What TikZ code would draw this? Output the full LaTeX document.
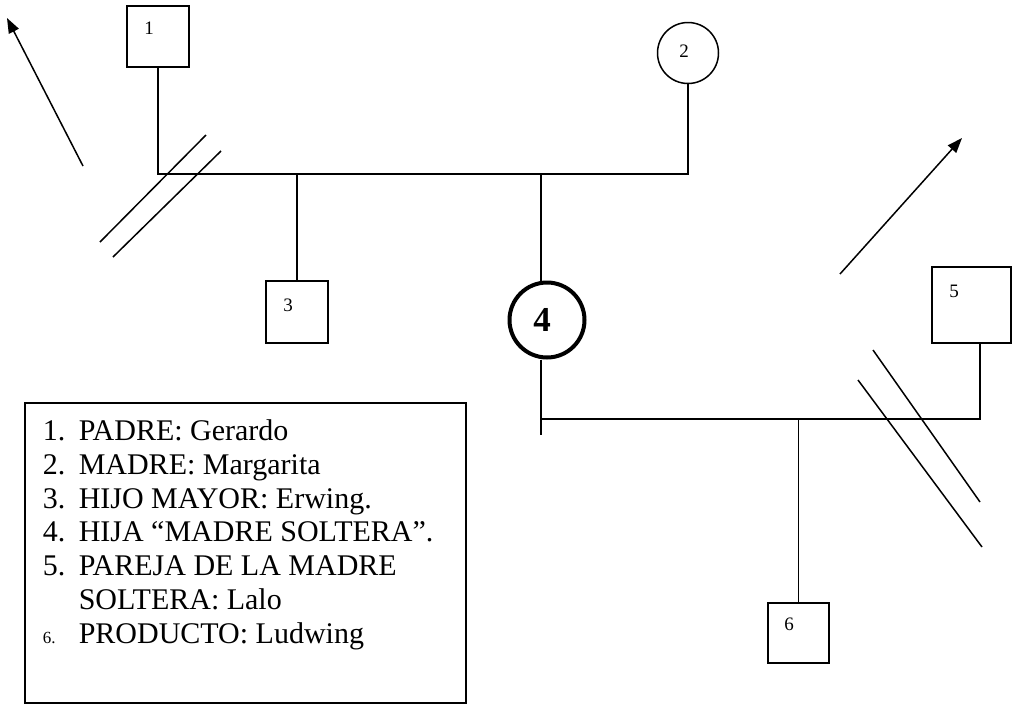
\documentclass[tikz,border=0pt]{standalone}
\usepackage{fontspec}
\setmainfont{Liberation Serif}
\usetikzlibrary{arrows.meta}

\tikzset{
  male/.style={draw, rectangle, minimum width=62pt, minimum height=61pt, inner sep=0pt},
  female/.style={draw, circle, minimum size=61pt, inner sep=0pt},
  num/.style={inner sep=0pt, font=\fontsize{19}{19}\selectfont},
}

\begin{document}
\begin{tikzpicture}[x=1pt, y=-1pt, >={Triangle[length=15pt,width=11pt]}, line width=1.5pt]
  \useasboundingbox (0,0) rectangle (1017,705);

  % parents
  \node[male] (p1) at (158,36.5) {};
  \node[num] (n1) at (149,28) {1};
  \node[female] (p2) at (688,53) {};
  \node[num] (n2) at (684,51) {2};
  \coordinate (m1) at (541,174);
  \draw (p1.south) -- (p1.south |- m1) -- (p2.south |- m1) -- (p2.south);

  % children
  \node[male, minimum height=62pt] (p3) at (297,312) {};
  \node[num] (n3) at (288,305) {3};
  \draw (p3.north) -- (p3.north |- m1);
  \node[female, minimum size=75pt, line width=4pt] (p4) at (547,320) {};
  \node[inner sep=0pt, font=\fontsize{35}{35}\selectfont\bfseries] (n4) at (542,320) {4};
  \draw (m1) -- (m1 |- p4.north);

  % second couple
  \node[male, minimum width=79pt, minimum height=76pt] (p5) at (971.5,305) {};
  \node[num] (n5) at (954,291) {5};
  \coordinate (m2) at (980,419);
  \coordinate (stub) at (541,435);
  \draw (stub |- p4.south) -- (stub);
  \draw (stub |- m2) -- (m2) -- (m2 |- p5.south);
  \node[male, minimum width=61pt, minimum height=60pt] (p6) at (798.5,633) {};
  \node[num] (n6) at (789,624) {6};
  \draw (p6.north) -- (p6.north |- m2);

  % separations
  \draw (100,242) -- (206,135);
  \draw (113,257) -- (221,151);
  \draw (873,350) -- (980,502);
  \draw (858,380) -- (982,547);

  % leaving
  \draw[->] (83,166) -- (7,18);
  \draw[->] (840,274) -- (962,138);

  % legend
  \draw (25,403) rectangle (466,703);
  \node[anchor=north west, inner sep=0pt, font=\fontsize{30}{33.8}\selectfont] (key) at (42,416) {%
    \begin{tabular}{@{}p{36pt}@{}l@{}}
      1. & PADRE: Gerardo\\
      2. & MADRE: Margarita\\
      3. & HIJO MAYOR: Erwing.\\
      4. & HIJA “MADRE SOLTERA”.\\
      5. & PAREJA DE LA MADRE\\
         & SOLTERA: Lalo\\
      {\fontsize{17}{17}\selectfont 6.} & PRODUCTO: Ludwing
    \end{tabular}};
\end{tikzpicture}
\end{document}
